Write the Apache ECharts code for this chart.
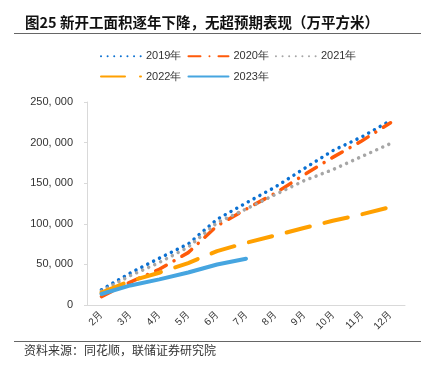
<!DOCTYPE html>
<html><head><meta charset="utf-8">
<script src="https://cdn.jsdelivr.net/npm/echarts@6/dist/echarts.min.js"></script>
<style>html,body{margin:0;padding:0;background:#fff}#c{width:434px;height:366px}</style>
</head><body><div id="c"></div>
<script>
const months = ['2月','3月','4月','5月','6月','7月','8月','9月','10月','11月','12月'];
const y2019 = [18814,39394,57590,75168,105509,125594,145042,167706,190012,206940,227154];
const y2020 = [10369,28203,44007,64490,97536,118011,137454,160110,181829,201986,224433];
const y2021 = [17093,36163,52308,71178,101288,118235,135765,152944,166736,182820,198895];
const y2022 = [15227,29638,39739,51628,66423,76471,85558,94767,103722,111632,120587];
const y2023 = [13567,24114,31606,40011,49880,56969];
const yTicks = [0,50000,100000,150000,200000,250000];

const font = '"Noto Sans CJK SC", sans-serif';
const numFont = '"Liberation Sans", Arial, sans-serif';
const chart = echarts.init(document.getElementById('c'));
function mk(name, data, color, width, type){
  return {name, type:'line', data, symbol:'none', showSymbol:false, smooth:false,
    lineStyle:{color, width, type, cap:'round'}, itemStyle:{color}};
}
chart.setOption({
  animation:false,
  textStyle:{fontFamily:font},
  title:{text:'图25 新开工面积逐年下降，无超预期表现（万平方米）', left:20, top:10,
    textStyle:{fontSize:14.5, fontWeight:'bold', color:'#111', fontFamily:font}},
  graphic:[
    {type:'line', shape:{x1:14,y1:33.5,x2:421,y2:33.5}, style:{stroke:'#666', lineWidth:1}},
    {type:'line', shape:{x1:14,y1:341.5,x2:421,y2:341.5}, style:{stroke:'#666', lineWidth:1}},
    {type:'text', left:24, top:344, style:{text:'资料来源：同花顺，联储证券研究院', fill:'#333', font:'12px "Noto Sans CJK SC"'}}
  ],
  legend:{left:95, top:44, width:275, itemWidth:40, itemHeight:18, itemGap:6,
    itemStyle:{opacity:0},
    textStyle:{fontSize:11, color:'#333', fontFamily:numFont},
    data:['2019年','2020年','2021年','2022年','2023年']},
  grid:{left:87, right:29, top:102, bottom:61},
  xAxis:{type:'category', data:months, boundaryGap:true,
    axisLine:{lineStyle:{color:'#D9D9D9'}},
    axisTick:{inside:true, length:3, lineStyle:{color:'#D9D9D9'}},
    axisLabel:{rotate:45, fontSize:10, color:'#333', margin:8, fontFamily:numFont}},
  yAxis:{type:'value', min:0, max:250000, interval:50000,
    axisLine:{show:true, lineStyle:{color:'#D9D9D9'}},
    axisTick:{show:true, length:3, lineStyle:{color:'#D9D9D9'}},
    splitLine:{show:false},
    axisLabel:{fontSize:11, color:'#333', margin:14, fontFamily:numFont,
      formatter:v=>{ if(!yTicks.includes(v)) return ''; return v===0?'0':String(v).replace(/(\d)(?=(\d{3})+$)/g,'$1, ');}}},
  series:[
    mk('2019年', y2019, '#0A70D2', 3.5, [0.01,6.6]),
    mk('2020年', y2020, '#FF5A0A', 3.5, [12,9,0.01,9]),
    mk('2021年', y2021, '#A6A6A6', 3.5, [0.01,6.6]),
    mk('2022年', y2022, '#FFA000', 4, [24,15]),
    mk('2023年', y2023, '#46A5E0', 4, 'solid')
  ]
});
</script></body></html>
